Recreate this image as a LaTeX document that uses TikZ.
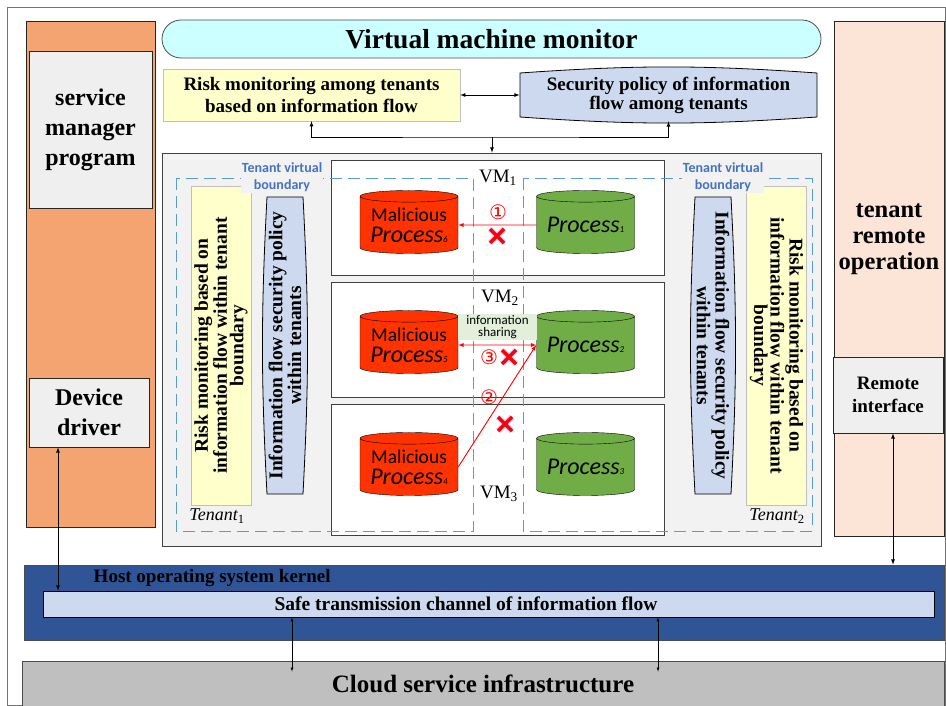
\documentclass[tikz,border=0pt]{standalone}
\usepackage{fontspec}
\setmainfont{Liberation Serif}
\newfontfamily\calibri{Carlito}
\newfontfamily\dejavu{DejaVu Sans}
\usetikzlibrary{arrows.meta,positioning,shapes,backgrounds}

\definecolor{mgrorange}{RGB}{244,164,112}
\definecolor{tenpeach}{RGB}{252,228,214}
\definecolor{boxgray}{RGB}{239,239,239}
\definecolor{vmmcyan}{RGB}{204,255,255}
\definecolor{riskyellow}{RGB}{255,255,204}
\definecolor{polblue}{RGB}{205,217,238}
\definecolor{areagray}{RGB}{242,242,242}
\definecolor{bndblue}{RGB}{91,155,213}
\definecolor{bndtext}{RGB}{68,114,196}
\definecolor{malred}{RGB}{255,51,0}
\definecolor{procgreen}{RGB}{112,173,71}
\definecolor{sharegreen}{RGB}{226,239,218}
\definecolor{kernelblue}{RGB}{47,85,151}
\definecolor{cloudgray}{RGB}{191,191,191}

\begin{document}
\begin{tikzpicture}[x=1pt, y=-1pt, thick]

		\tikzstyle{column}=[rectangle, draw=black!85, line width=0.8pt]
		\tikzstyle{grey}=[rectangle, draw=black!85, fill=boxgray, line width=0.8pt, align=center, font=\bfseries\fontsize{24}{30}\selectfont]
		\tikzstyle{toptext}=[align=center, font=\bfseries\fontsize{19}{22}\selectfont]
		\tikzstyle{vrisk}=[rectangle, draw=black!25, fill=riskyellow, thin, minimum width=319pt, minimum height=58pt, align=center, font=\bfseries\fontsize{19.5}{16.5}\selectfont]
		\tikzstyle{vpol}=[align=center, font=\bfseries\fontsize{19.5}{17}\selectfont]
		\tikzstyle{polshape}=[draw=black, fill=polblue, line width=0.8pt]
		\tikzstyle{vmbox}=[rectangle, draw=black!75, fill=white, line width=1pt, minimum width=333pt]
		\tikzstyle{tenantline}=[bndblue, line width=0.9pt, dash pattern=on 12pt off 6pt]
		\tikzstyle{bndlabel}=[fill=areagray, inner sep=1pt, align=center, text=bndtext, font=\calibri\bfseries\fontsize{14}{17}\selectfont]
		\tikzstyle{vmlabel}=[font=\fontsize{19}{19}\selectfont]
		\tikzstyle{badproc}=[cylinder, shape border rotate=90, aspect=0.15, draw=black, thin, fill=malred, minimum width=98pt, minimum height=63pt, inner sep=0pt, align=center, font=\calibri\fontsize{19.5}{21}\selectfont]
		\tikzstyle{goodproc}=[cylinder, shape border rotate=90, aspect=0.15, draw=black, thin, fill=procgreen, minimum width=98pt, minimum height=63pt, inner sep=0pt, align=center, font=\calibri\fontsize{24}{24}\selectfont\itshape]
		\tikzstyle{flow}=[red, line width=0.9pt]
		\tikzstyle{stepno}=[red, inner sep=0pt, font=\dejavu\fontsize{20}{20}\selectfont]
		\tikzstyle{nogo}=[red, line width=3.5pt, preaction={draw, blue!22, line width=5.5pt}]

		\useasboundingbox (0,0) rectangle (946,706);
		\draw[black!55, thin] (7,7) rectangle (945.5,705.5);

		% service manager side
		\node[column, fill=mgrorange, minimum width=129pt, minimum height=506pt] (mgr) at (90.5,274) {};
		\node[grey, minimum width=123pt, minimum height=157pt] (svc) at (90.5,129.5) {service\\manager\\program};
		\node[grey, minimum width=120pt, minimum height=69pt] (drv) at (89,412.5) {Device\\driver};

		% tenant side
		\node[column, fill=tenpeach, minimum width=110pt, minimum height=515pt] (ten) at (889,278.5) {};
		\node[align=center, font=\bfseries\fontsize{24.5}{26}\selectfont] (tro) at (889,239) {tenant\\remote\\operation};
		\node[grey, minimum width=110pt, minimum height=76pt, font=\bfseries\fontsize{19}{23}\selectfont] (rif) at (888,395) {Remote\\interface};

		% monitor and policies among tenants
		\node[rectangle, rounded corners=19pt, draw=black!70, fill=vmmcyan, line width=0.8pt, minimum width=659pt, minimum height=38pt, font=\bfseries\fontsize{27.5}{27.5}\selectfont] (vmm) at (491.5,39) {Virtual machine monitor};
		\node[rectangle, draw=black!25, fill=riskyellow, thin, minimum width=297pt, minimum height=52pt, toptext] (risk) at (311.5,95) {Risk monitoring among tenants\\based on information flow};
		\draw[polshape] (520,73) to[bend left=4] (817,73) -- (817,117) to[bend left=4] (520,117) -- cycle;
		\node[toptext, minimum width=297pt, minimum height=52pt, font=\bfseries\fontsize{19}{19}\selectfont] (pol) at (668.5,95) {Security policy of information\\flow among tenants};

		\node[rectangle, draw=black!75, fill=areagray, line width=0.8pt, minimum width=659pt, minimum height=393pt] (area) at (491.5,349.5) {};

		\draw[latex-latex] (risk.east) -- (pol.west);
		\coordinate (split) at (492,137);
		\draw[latex-latex] (risk.south) |- (split) -| (pol.south);
		\draw[-latex] (split) -- (split |- area.north);

		% virtual machines
		\node[vmbox, minimum height=114pt] (vm1) at (497.5,218) {};
		\node[vmbox, minimum height=115pt] (vm2) at (497.5,340) {};
		\node[vmbox, minimum height=131pt] (vm3) at (497.5,469.5) {};

		% policies within each tenant
		\node[vrisk, rotate=90] (risk1) at (221,345.5) {Risk monitoring based on\\information flow within tenant\\boundary};
		\draw[polshape] (267,197) to[bend right=3] (267,494) -- (303,494) to[bend right=3] (303,197) -- cycle;
		\node[vpol, rotate=90] (pol1) at (285,345.5) {Information flow security policy\\within tenants};

		\draw[polshape] (695,197) to[bend right=3] (695,494) -- (731,494) to[bend right=3] (731,197) -- cycle;
		\node[vpol, rotate=-90] (pol2) at (713,345.5) {Information flow security policy\\within tenants};
		\node[vrisk, rotate=-90] (risk2) at (776.5,345.5) {Risk monitoring based on\\information flow within tenant\\boundary};

		% tenant boundaries
		\draw[tenantline] (176,178) rectangle (473,531);
		\draw[tenantline] (523,178) rectangle (812,531);
		\node[bndlabel] (bnd1) at (282,177.5) {Tenant virtual\\boundary};
		\node[bndlabel] (bnd2) at (723,177.5) {Tenant virtual\\boundary};
		\node[font=\itshape\fontsize{18}{18}\selectfont] (t1) at (217,516) {Tenant\textsubscript{\upshape 1}};
		\node[font=\itshape\fontsize{18}{18}\selectfont] (t2) at (777,516) {Tenant\textsubscript{\upshape 2}};

		\node[vmlabel] (vm1l) at (498,178) {VM\textsubscript{1}};
		\node[vmlabel] (vm2l) at (500,298) {VM\textsubscript{2}};
		\node[vmlabel] (vm3l) at (499,494) {VM\textsubscript{3}};

		% processes
		\node[badproc] (m6) at (409,225) {Malicious\\{\fontsize{24}{24}\selectfont\itshape Process{\fontsize{9}{9}\selectfont 6}}};
		\node[badproc] (m5) at (409,345) {Malicious\\{\fontsize{24}{24}\selectfont\itshape Process{\fontsize{9}{9}\selectfont 5}}};
		\node[badproc] (m4) at (409,467) {Malicious\\{\fontsize{24}{24}\selectfont\itshape Process{\fontsize{9}{9}\selectfont 4}}};
		\node[goodproc] (p1) at (585.5,225) {Process{\fontsize{9}{9}\selectfont 1}};
		\node[goodproc] (p2) at (585.5,345) {Process{\fontsize{9}{9}\selectfont 2}};
		\node[goodproc] (p3) at (585.5,467) {Process{\fontsize{9}{9}\selectfont 3}};

		% information flows
		\node[fill=sharegreen, minimum width=79pt, minimum height=26pt, inner sep=0pt, align=center, font=\calibri\fontsize{13}{12.5}\selectfont] (share) at (497.5,327) {information\\sharing};
		\draw[flow, -latex] (p1.west) -- (m6.east);
		\draw[flow, latex-latex] (m5.east) -- (p2.west);
		\draw[flow, -latex] (m4.east) -- (p2.west);

		\node[stepno] (n1) at (498,212) {①};
		\node[stepno] (n3) at (489,357) {③};
		\node[stepno] (n2) at (489,397) {②};

		\coordinate (x1) at (497,236);
		\coordinate (x3) at (509,357);
		\coordinate (x2) at (505,424);
		\draw[nogo] (x1) ++(-7,-7) -- ++(14,14) (x1) ++(7,-7) -- ++(-14,14);
		\draw[nogo] (x3) ++(-7,-7) -- ++(14,14) (x3) ++(7,-7) -- ++(-14,14);
		\draw[nogo] (x2) ++(-7,-7) -- ++(14,14) (x2) ++(7,-7) -- ++(-14,14);

		% host and infrastructure
		\node[rectangle, draw=black!70, fill=kernelblue, line width=0.8pt, minimum width=920pt, minimum height=75pt] (kernel) at (484,602.5) {};
		\node[anchor=west, font=\bfseries\fontsize{19}{19}\selectfont] (kernlabel) at (90,578) {Host operating system kernel};
		\node[rectangle, draw=black, fill=polblue, line width=0.8pt, minimum width=891pt, minimum height=26pt] (chan) at (488.5,604) {};
		\node[font=\bfseries\fontsize{19.5}{19.5}\selectfont] (chanlabel) at (466,604) {Safe transmission channel of information flow};
		\node[rectangle, draw=black!70, fill=cloudgray, line width=0.8pt, minimum width=922pt, minimum height=46pt, font=\bfseries\fontsize{25}{25}\selectfont] (cloud) at (483,684) {Cloud service infrastructure};

		\coordinate (drvlink) at ([xshift=-31pt]drv.south);
		\draw[latex-latex] (drvlink) -- (drvlink |- chan.north);
		\coordinate (riflink) at ([xshift=5pt]rif.south);
		\draw[latex-latex] (riflink) -- (riflink |- kernel.north);
		\coordinate (chlink1) at ([xshift=-196.5pt]chan.south);
		\coordinate (chlink2) at ([xshift=169.5pt]chan.south);
		\draw[latex-latex, thin, shorten >=-11pt] (chlink1) -- (chlink1 |- cloud.north);
		\draw[latex-latex, thin, shorten >=-11pt] (chlink2) -- (chlink2 |- cloud.north);
\end{tikzpicture}
\end{document}
